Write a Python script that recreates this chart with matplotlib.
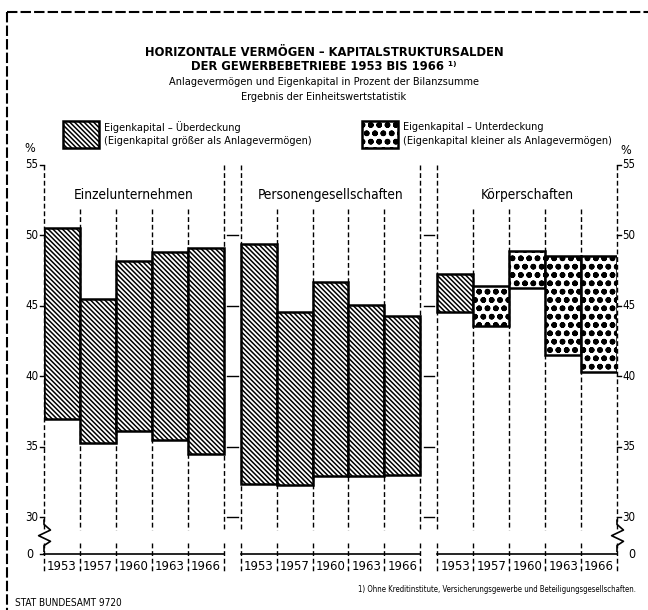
import matplotlib
matplotlib.use("Agg")
import matplotlib.pyplot as plt
from matplotlib.lines import Line2D
from matplotlib.patches import Rectangle

plt.rcParams['font.family'] = ['DejaVu Sans']
plt.rcParams['font.stretch'] = 'condensed'
plt.rcParams['hatch.linewidth'] = 1.1

# Anteile in Prozent der Bilanzsumme
years = ["1953", "1957", "1960", "1963", "1966"]
groups = ["Einzelunternehmen", "Personengesellschaften", "Körperschaften"]

einzel_eigen = [50.5, 45.5, 48.2, 48.85, 49.1]
einzel_anlage = [37.0, 35.3, 36.1, 35.5, 34.5]
personen_eigen = [49.4, 44.6, 46.7, 45.1, 44.3]
personen_anlage = [32.35, 32.3, 32.9, 32.95, 33.0]
koerper_eigen = [47.3, 43.6, 46.25, 41.5, 40.3]
koerper_anlage = [44.55, 46.45, 48.9, 48.55, 48.55]

yticks = [55, 50, 45, 40, 35, 30]

W, H = 648, 610
fig = plt.figure(figsize=(W / 100, H / 100), dpi=100)


def fx(x):
    return x / W


def fy(y):
    return 1 - y / H


GAP = 0.48
YB = 27.4  # Lage der "0"-Linie (Achsenbruch)
x_end = 15 + 2 * GAP
ax = fig.add_axes([fx(44), fy(554), fx(617) - fx(44), fy(165) - fy(554)])
ax.set_xlim(0, x_end)
ax.set_ylim(YB, 55)
ax.axis("off")

HATCH_OVER = "\\\\\\\\\\\\\\"
HATCH_UNDER = "oo"
dash = (0, (3.5, 2))


def style_bar(p, hatch):
    # Punkte kraeftiger zeichnen, damit sie gefuellt wirken
    if hatch == HATCH_UNDER:
        try:
            p.set_hatch_linewidth(1.7)
        except AttributeError:
            pass


data = [(einzel_eigen, einzel_anlage), (personen_eigen, personen_anlage),
        (koerper_eigen, koerper_anlage)]

for g, (eigen, anlage) in enumerate(data):
    x0 = g * (5 + GAP)
    # gestrichelte Hilfslinien
    for i in range(6):
        top = 55 if i in (0, 5) else 51.85
        ax.plot([x0 + i, x0 + i], [top, 29.1], color="black", lw=1.0,
                linestyle=dash, zorder=1, clip_on=False)
        ax.plot([x0 + i, x0 + i], [28.2, 26.2], color="black", lw=1.0,
                linestyle=dash, zorder=1, clip_on=False)
    # Balken
    for i in range(5):
        lo = min(eigen[i], anlage[i])
        hi = max(eigen[i], anlage[i])
        hatch = HATCH_OVER if eigen[i] > anlage[i] else HATCH_UNDER
        bars = ax.bar(x0 + i + 0.5, hi - lo, bottom=lo, width=1.0,
                      facecolor="white", edgecolor="black", hatch=hatch,
                      linewidth=1.8, zorder=3)
        style_bar(bars[0], hatch)
        ax.text(x0 + i + 0.5, YB - 0.92, years[i], ha="center", va="center",
                fontsize=9.4, clip_on=False)
    ax.plot([x0, x0 + 5], [YB, YB], color="black", lw=1.2, clip_on=False)
    ax.text(x0 + 2.5, 52.87, groups[g], ha="center", va="center", fontsize=9.8)
    # kleine Teilstriche zwischen den Gruppen
    if g < 2:
        for v in [50, 45, 40, 35, 30]:
            ax.plot([x0 + 5.11, x0 + 5.39], [v, v], color="black", lw=1.0)

# Achsen links und rechts
for v in yticks:
    ax.plot([-0.12, 0], [v, v], color="black", lw=1.0, clip_on=False)
    ax.text(-0.15, v, str(v), ha="right", va="center", fontsize=8.3, clip_on=False)
    ax.plot([x_end, x_end + 0.12], [v, v], color="black", lw=1.0, clip_on=False)
    ax.text(x_end + 0.14, v, str(v), ha="left", va="center", fontsize=8.3,
            clip_on=False)
ax.text(-0.3, YB, "0", ha="right", va="center", fontsize=9, clip_on=False)
ax.text(x_end + 0.3, YB, "0", ha="left", va="center", fontsize=9, clip_on=False)
ax.plot([-0.1, 0], [YB, YB], color="black", lw=1.0, clip_on=False)

# Achsenbruch (Zickzack)
for xa in (0, x_end):
    ax.plot([xa, xa, xa + 0.18, xa - 0.15, xa + 0.18, xa, xa],
            [29.8, 29.5, 29.1, 28.7, 28.3, 28.0, 27.6],
            color="black", lw=1.2, clip_on=False, zorder=4)

fig.text(fx(30), fy(149), "%", ha="center", va="center", fontsize=9)
fig.text(fx(626), fy(150), "%", ha="center", va="center", fontsize=9)

# Titel
fig.text(0.5, fy(52), "HORIZONTALE VERMÖGEN – KAPITALSTRUKTURSALDEN",
         ha="center", va="center", fontsize=9.3, fontweight="bold")
fig.text(0.5, fy(67), "DER GEWERBEBETRIEBE 1953 BIS 1966 ¹⁾",
         ha="center", va="center", fontsize=9.3, fontweight="bold")
fig.text(0.5, fy(82), "Anlagevermögen und Eigenkapital in Prozent der Bilanzsumme",
         ha="center", va="center", fontsize=7.8)
fig.text(0.5, fy(97), "Ergebnis der Einheitswertstatistik",
         ha="center", va="center", fontsize=7.8)

# Legende
for (lx, hatch, l1, l2) in [
        (63, HATCH_OVER, "Eigenkapital – Überdeckung",
         "(Eigenkapital größer als Anlagevermögen)"),
        (362, HATCH_UNDER, "Eigenkapital – Unterdeckung",
         "(Eigenkapital kleiner als Anlagevermögen)")]:
    box = Rectangle((fx(lx), fy(148)), fx(36), fy(0) - fy(27),
                    transform=fig.transFigure, facecolor="white",
                    edgecolor="black", hatch=hatch, linewidth=1.8)
    style_bar(box, hatch)
    fig.add_artist(box)
    fig.text(fx(lx + 41), fy(127), l1, ha="left", va="center", fontsize=7.8)
    fig.text(fx(lx + 41), fy(141), l2, ha="left", va="center", fontsize=7.8)

# Fussnote und Quelle
fig.text(fx(636), fy(590),
         "1) Ohne Kreditinstitute, Versicherungsgewerbe und Beteiligungsgesellschaften.",
         ha="right", va="center", fontsize=5.6)
fig.text(fx(15), fy(603), "STAT BUNDESAMT 9720", ha="left", va="center",
         fontsize=7.2)

# Rahmen
fig.add_artist(Line2D([fx(7), fx(648)], [fy(12), fy(12)], color="black",
                      lw=1.5, linestyle=(0, (5, 1.5))))
fig.add_artist(Line2D([fx(7), fx(7)], [fy(12), fy(610)], color="black",
                      lw=1.5, linestyle=(0, (5, 1.5))))

fig.savefig("out.png", dpi=100)
